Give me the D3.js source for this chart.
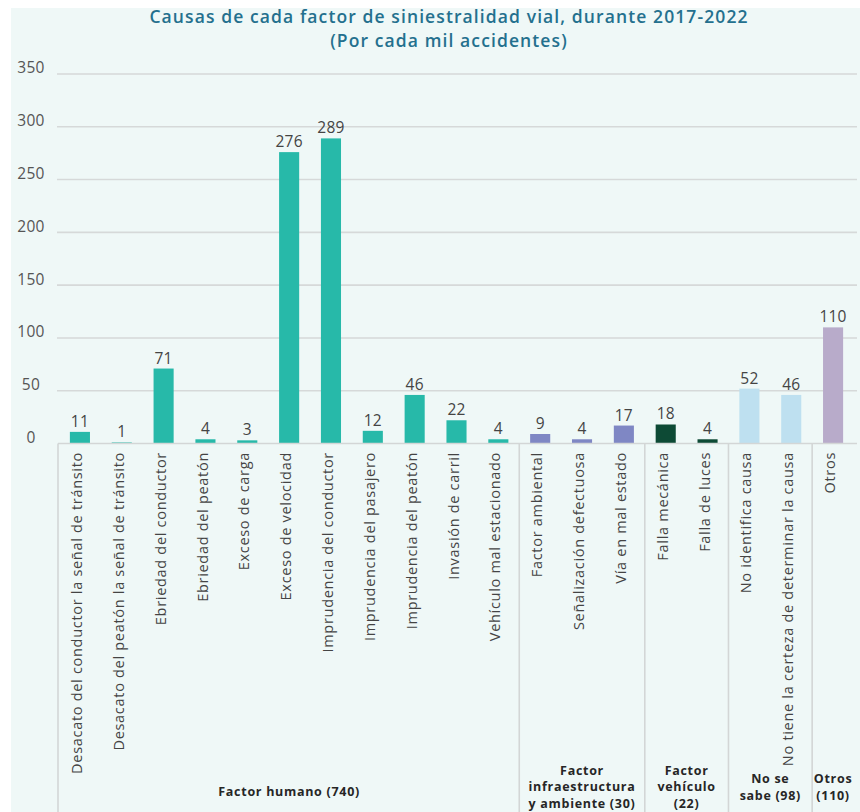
<!DOCTYPE html>
<html>
<head>
<meta charset="utf-8">
<script src="https://cdn.jsdelivr.net/npm/d3@7"></script>
<style>
  html, body { margin: 0; padding: 0; background: #ffffff; }
  svg { display: block; }
</style>
</head>
<body>
<div id="chart"></div>
<script>
// Causes of road accidents per thousand accidents, 2017-2022
const categories = [
  "Desacato del conductor la señal de tránsito",
  "Desacato del peatón la señal de tránsito",
  "Ebriedad del conductor",
  "Ebriedad del peatón",
  "Exceso de carga",
  "Exceso de velocidad",
  "Imprudencia del conductor",
  "Imprudencia del pasajero",
  "Imprudencia del peatón",
  "Invasión de carril",
  "Vehículo mal estacionado",
  "Factor ambiental",
  "Señalización defectuosa",
  "Vía en mal estado",
  "Falla mecánica",
  "Falla de luces",
  "No identifica causa",
  "No tiene la certeza de determinar la causa",
  "Otros"
];
const values = [11, 1, 71, 4, 3, 276, 289, 12, 46, 22, 4, 9, 4, 17, 18, 4, 52, 46, 110];
const groupOf = [0,0,0,0,0,0,0,0,0,0,0, 1,1,1, 2,2, 3,3, 4];
const groupLabels = [
  ["Factor humano (740)"],
  ["Factor", "infraestructura", "y ambiente (30)"],
  ["Factor", "vehículo", "(22)"],
  ["No se", "sabe (98)"],
  ["Otros", "(110)"]
];
const groupColors = ["#27b9a9", "#7f87c4", "#0d4a35", "#bee0f0", "#b8abca"];
const yTicks = [0, 50, 100, 150, 200, 250, 300, 350];

const W = 860, H = 812;
const svg = d3.select("#chart").append("svg")
  .attr("width", W).attr("height", H)
  .style("font-family", "'Open Sans', 'Noto Sans', sans-serif");

// panel background
svg.append("rect")
  .attr("x", 11).attr("y", 8).attr("width", W - 11).attr("height", H - 8)
  .attr("fill", "#eff8f7");

// title
const title = svg.append("text")
  .attr("text-anchor", "middle")
  .attr("fill", "#24708e").attr("font-weight", 600).attr("font-size", 17.5)
  .attr("letter-spacing", 1.1);
title.append("tspan").attr("x", 449).attr("y", 23)
  .text("Causas de cada factor de siniestralidad vial, durante 2017-2022");
title.append("tspan").attr("x", 449).attr("y", 47)
  .text("(Por cada mil accidentes)");

// scales
const x = d3.scaleBand()
  .domain(d3.range(categories.length))
  .range([59, 854])
  .paddingInner(0.52)
  .paddingOuter(0.26);

const y = d3.scaleLinear().domain([0, 350]).range([443.5, 74]);

const gridLeft = 57, gridRight = 857;

// gridlines
svg.append("g").selectAll("line")
  .data(yTicks.filter(t => t > 0))
  .join("line")
  .attr("x1", gridLeft).attr("x2", gridRight)
  .attr("y1", d => y(d)).attr("y2", d => y(d))
  .attr("stroke", "#d6d9d9").attr("stroke-width", 1.6);

// y tick labels
svg.append("g").selectAll("text")
  .data(yTicks)
  .join("text")
  .attr("x", 31)
  .attr("y", d => y(d) - 6)
  .attr("text-anchor", "middle")
  .attr("dy", "0.35em")
  .attr("fill", "#555")
  .attr("font-size", 15.5)
  .attr("letter-spacing", 0.3)
  .text(d => d);

// bars
svg.append("g").selectAll("rect")
  .data(values)
  .join("rect")
  .attr("x", (d, i) => x(i))
  .attr("width", x.bandwidth())
  .attr("y", d => y(d))
  .attr("height", d => y(0) - y(d))
  .attr("fill", (d, i) => groupColors[groupOf[i]]);

// value labels
svg.append("g").selectAll("text")
  .data(values)
  .join("text")
  .attr("x", (d, i) => x(i) + x.bandwidth() / 2)
  .attr("y", d => y(d) - 5)
  .attr("text-anchor", "middle")
  .attr("fill", "#444")
  .attr("font-size", 15.5)
  .attr("letter-spacing", 0.2)
  .text(d => d);

// category frame: axis line, left border and group separators
const frame = svg.append("g").attr("stroke", "#d3d6d6").attr("stroke-width", 1.6);
frame.append("line")
  .attr("x1", 58).attr("x2", gridRight)
  .attr("y1", y(0)).attr("y2", y(0));
frame.append("line")
  .attr("x1", 58).attr("x2", 58)
  .attr("y1", y(0)).attr("y2", H);

const boundaries = [];
for (let i = 1; i < categories.length; i++) {
  if (groupOf[i] !== groupOf[i - 1]) {
    boundaries.push((x(i - 1) + x(i) + x.bandwidth()) / 2);
  }
}
frame.selectAll(".sep")
  .data(boundaries)
  .join("line")
  .attr("class", "sep")
  .attr("x1", d => d).attr("x2", d => d)
  .attr("y1", y(0)).attr("y2", H);

// rotated category labels
svg.append("g").selectAll("text")
  .data(categories)
  .join("text")
  .attr("transform", (d, i) =>
    `translate(${x(i) + x.bandwidth() / 2 - 3},452) rotate(-90)`)
  .attr("text-anchor", "end")
  .attr("dy", "0.35em")
  .attr("fill", "#444")
  .attr("font-size", 14.5)
  .attr("letter-spacing", 0.7)
  .text(d => d);

// group labels, one text element per line
const lineH = 16.5;
const groups = groupLabels.map((lines, g) => {
  const idx = d3.range(categories.length).filter(i => groupOf[i] === g);
  const cx = (x(idx[0]) + x(idx[idx.length - 1]) + x.bandwidth()) / 2;
  return { lines, cx };
});
const gl = svg.append("g")
  .attr("font-weight", 700).attr("font-size", 12.5)
  .attr("letter-spacing", 0.7)
  .attr("fill", "#262626").attr("text-anchor", "middle");
groups.forEach(gr => {
  const n = gr.lines.length;
  const cy = n === 1 ? 792 : 787;
  gr.lines.forEach((ln, k) => {
    gl.append("text")
      .attr("x", gr.cx)
      .attr("y", cy + (k - (n - 1) / 2) * lineH)
      .attr("dy", "0.35em")
      .text(ln);
  });
});
</script>
</body>
</html>
